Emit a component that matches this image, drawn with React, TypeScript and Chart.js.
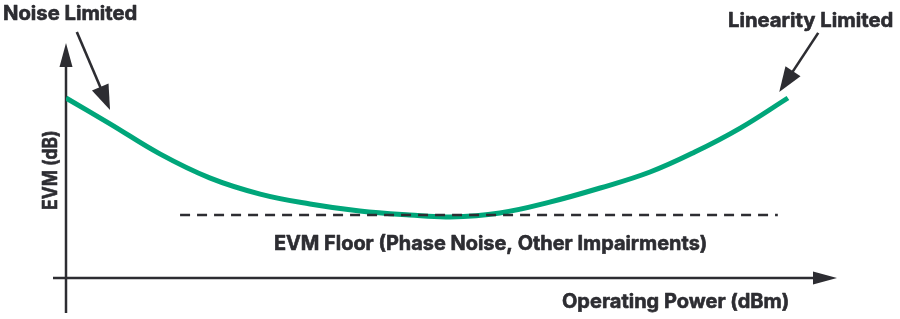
import React, { useEffect, useRef } from "react";
import { Chart, registerables } from "chart.js";

Chart.register(...registerables);

// Operating power (arbitrary units) and EVM (arbitrary dB units) of the conceptual curve
const powerValues = [0, 0.61, 1.3, 1.99, 2.69, 3.38, 4.07, 4.76, 5.32, 6.01, 6.7, 7.4, 8.09, 8.71, 9.34, 10.0];
const evmValues = [7.66, 6.56, 5.28, 4.26, 3.57, 3.15, 2.85, 2.68, 2.6, 2.77, 3.23, 3.83, 4.51, 5.36, 6.38, 7.66];

// EVM floor (dashed line)
const floorPower = [1.58, 9.86];
const floorEvm = [2.68, 2.68];

// Axis extents
const xMax = 10.68;
const yMax = 10;

const xAxisTitle = "Operating Power (dBm)";
const yAxisTitle = "EVM (dB)";
const floorLabel = "EVM Floor (Phase Noise, Other Impairments)";
const noiseLabel = "Noise Limited";
const linearityLabel = "Linearity Limited";

const GREEN = "rgb(0,166,122)";
const DARK = "#2d2d32";
const FONT = "Inter, 'Open Sans', sans-serif";
const FONT_SIZE = 19.5;

function arrow(ctx: CanvasRenderingContext2D, x1: number, y1: number, x2: number, y2: number, headLen: number, halfW: number, lw: number) {
  const ang = Math.atan2(y2 - y1, x2 - x1);
  const bx = x2 - Math.cos(ang) * headLen;
  const by = y2 - Math.sin(ang) * headLen;
  ctx.save();
  ctx.strokeStyle = DARK;
  ctx.fillStyle = DARK;
  ctx.lineWidth = lw;
  ctx.beginPath();
  ctx.moveTo(x1, y1);
  ctx.lineTo(bx + Math.cos(ang) * 2, by + Math.sin(ang) * 2);
  ctx.stroke();
  ctx.beginPath();
  ctx.moveTo(x2, y2);
  ctx.lineTo(bx + Math.cos(ang + Math.PI / 2) * halfW, by + Math.sin(ang + Math.PI / 2) * halfW);
  ctx.lineTo(bx - Math.cos(ang + Math.PI / 2) * halfW, by - Math.sin(ang + Math.PI / 2) * halfW);
  ctx.closePath();
  ctx.fill();
  ctx.restore();
}

// Draws bold text with its left end at (x, y) (baseline), squeezed/stretched to a target width.
function fitText(ctx: CanvasRenderingContext2D, text: string, x: number, y: number, width: number, angle = 0) {
  ctx.save();
  ctx.font = `bold ${FONT_SIZE}px ${FONT}`;
  ctx.fillStyle = DARK;
  ctx.strokeStyle = DARK;
  ctx.lineWidth = 0.6;
  ctx.lineJoin = "round";
  ctx.textAlign = "left";
  ctx.textBaseline = "alphabetic";
  const w = ctx.measureText(text).width;
  ctx.translate(x, y);
  if (angle) ctx.rotate(angle);
  ctx.scale((width - 0.6) / w, 1);
  ctx.fillText(text, 0, 0);
  ctx.strokeText(text, 0, 0);
  ctx.restore();
}

const decorPlugin = {
  id: "decor",
  beforeDatasetsDraw(chart: any) {
    const { ctx } = chart;
    const xs = chart.scales.x;
    const ys = chart.scales.y;
    const X = (v: number) => xs.getPixelForValue(v);
    const Y = (v: number) => ys.getPixelForValue(v);
    arrow(ctx, X(0), Y(-1.49), X(0), Y(yMax), 24, 6.5, 2.5);
    arrow(ctx, X(-0.18), Y(0), X(xMax), Y(0), 24, 6.5, 2.5);
  },
  afterDraw(chart: any) {
    const { ctx } = chart;
    const xs = chart.scales.x;
    const ys = chart.scales.y;
    const X = (v: number) => xs.getPixelForValue(v);
    const Y = (v: number) => ys.getPixelForValue(v);
    arrow(ctx, X(0.15), Y(10.47), X(0.61), Y(7.15), 25, 9, 2.6);
    arrow(ctx, X(10.42), Y(10.43), X(9.88), Y(7.91), 25, 9, 2.6);

    fitText(ctx, noiseLabel, X(-0.873), Y(10.98), 135);
    fitText(ctx, linearityLabel, X(9.17), Y(10.68), 166);
    fitText(ctx, floorLabel, X(2.88), Y(1.19), 434);
    fitText(ctx, xAxisTitle, X(6.87), Y(-1.28), 228);
    // y-axis title: reads bottom-to-top, 80px long, centred near EVM 4.6
    fitText(ctx, yAxisTitle, X(-0.125), Y(4.6) + 40, 80, -Math.PI / 2);
  },
};

export default function App() {
  const ref = useRef<HTMLCanvasElement | null>(null);
  useEffect(() => {
    document.body.style.margin = "0";
    const canvas = ref.current!;
    const chart = new Chart(canvas, {
      type: "line",
      data: {
        datasets: [
          {
            label: "EVM floor",
            data: floorPower.map((x, i) => ({ x, y: floorEvm[i] })),
            borderColor: DARK,
            borderWidth: 2.5,
            borderDash: [10, 7],
            pointRadius: 0,
            fill: false,
            order: 0,
          },
          {
            label: "EVM",
            data: powerValues.map((x, i) => ({ x, y: evmValues[i] })),
            borderColor: GREEN,
            borderWidth: 5,
            pointRadius: 0,
            tension: 0.4,
            fill: false,
            order: 1,
          },
        ],
      },
      options: {
        responsive: false,
        animation: false,
        devicePixelRatio: 1,
        layout: { padding: { left: 66, right: 63, top: 43, bottom: 41 } },
        plugins: { legend: { display: false }, tooltip: { enabled: false } },
        events: [],
        scales: {
          x: { type: "linear", min: 0, max: xMax, display: false },
          y: { type: "linear", min: 0, max: yMax, display: false },
        },
      },
      plugins: [decorPlugin],
    } as any);
    return () => chart.destroy();
  }, []);
  return (
    <div style={{ position: "absolute", left: 0, top: 0, width: 900, height: 319, background: "#fff" }}>
      <canvas ref={ref} width={900} height={319} />
    </div>
  );
}
